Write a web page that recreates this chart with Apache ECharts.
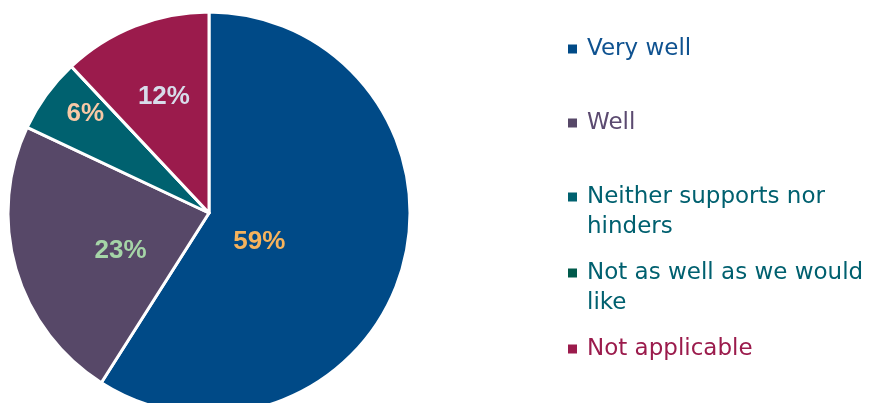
<!DOCTYPE html>
<html>
<head>
<meta charset="utf-8">
<script src="https://cdn.jsdelivr.net/npm/echarts@6/dist/echarts.min.js"></script>
<style>
  html, body { margin: 0; padding: 0; background: #ffffff; }
  #chart { width: 874px; height: 403px; }
</style>
</head>
<body>
<div id="chart"></div>
<script>
// Survey answers, in the order they go round the pie (clockwise from 12 o'clock)
const categories = [
  'Very well',
  'Well',
  'Neither supports nor hinders',
  'Not as well as we would like',
  'Not applicable'
];
const shares = [59, 23, 6, 0, 12];

// Legend text broken into display lines
const legendLines = [
  ['Very well'],
  ['Well'],
  ['Neither supports nor', 'hinders'],
  ['Not as well as we would', 'like'],
  ['Not applicable']
];

// Styling
const sliceColors = ['#004a87', '#574868', '#00616f', '#005a4b', '#9b1b4c'];
const legendTextColors = ['#0f5290', '#5b4a70', '#00606f', '#00606f', '#9b1b4c'];
const labelColors = ['#f6b35c', '#a5d5a7', '#f8c9a6', '#ffffff', '#d7dcea'];
// nudges applied to each percentage label from its default inside spot
const labelShift = [[-49, 0], [11, 9], [-40, -38], [0, 0], [-7, -20]];
// top edge of each legend entry
const legendTops = [34, 108, 182, 258, 334];

const chart = echarts.init(document.getElementById('chart'), null, { renderer: 'canvas' });

const legends = categories.map((name, i) => ({
  data: [name],
  orient: 'vertical',
  left: 562,
  top: legendTops[i],
  padding: 0,
  itemWidth: 0,
  itemHeight: 0,
  icon: 'rect',
  selectedMode: false,
  formatter: () => legendLines[i]
    .map((line, k) => (k === 0 ? '{m| }{g| }' : '{s| }') + line)
    .join('\n'),
  textStyle: {
    fontFamily: 'DejaVu Sans',
    fontSize: 23,
    lineHeight: 30,
    color: legendTextColors[i],
    rich: {
      m: { width: 9, height: 9, backgroundColor: sliceColors[i], verticalAlign: 'middle', lineHeight: 30 },
      g: { width: 10, lineHeight: 30 },
      s: { width: 19, lineHeight: 30 }
    }
  }
}));

chart.setOption({
  animation: false,
  backgroundColor: '#ffffff',
  legend: legends,
  series: [{
    type: 'pie',
    center: [209, 213],
    radius: 201,
    startAngle: 90,
    clockwise: true,
    silent: true,
    avoidLabelOverlap: false,
    itemStyle: { borderColor: '#ffffff', borderWidth: 3 },
    label: {
      position: 'inside',
      formatter: '{c}%',
      fontFamily: 'Liberation Sans',
      fontWeight: 'bold',
      fontSize: 26
    },
    labelLine: { show: false },
    labelLayout: (p) => ({ dx: labelShift[p.dataIndex][0], dy: labelShift[p.dataIndex][1] }),
    data: categories.map((name, i) => ({
      name: name,
      value: shares[i],
      itemStyle: { color: sliceColors[i] },
      label: { show: shares[i] > 0, color: labelColors[i] }
    }))
  }]
});
</script>
</body>
</html>
